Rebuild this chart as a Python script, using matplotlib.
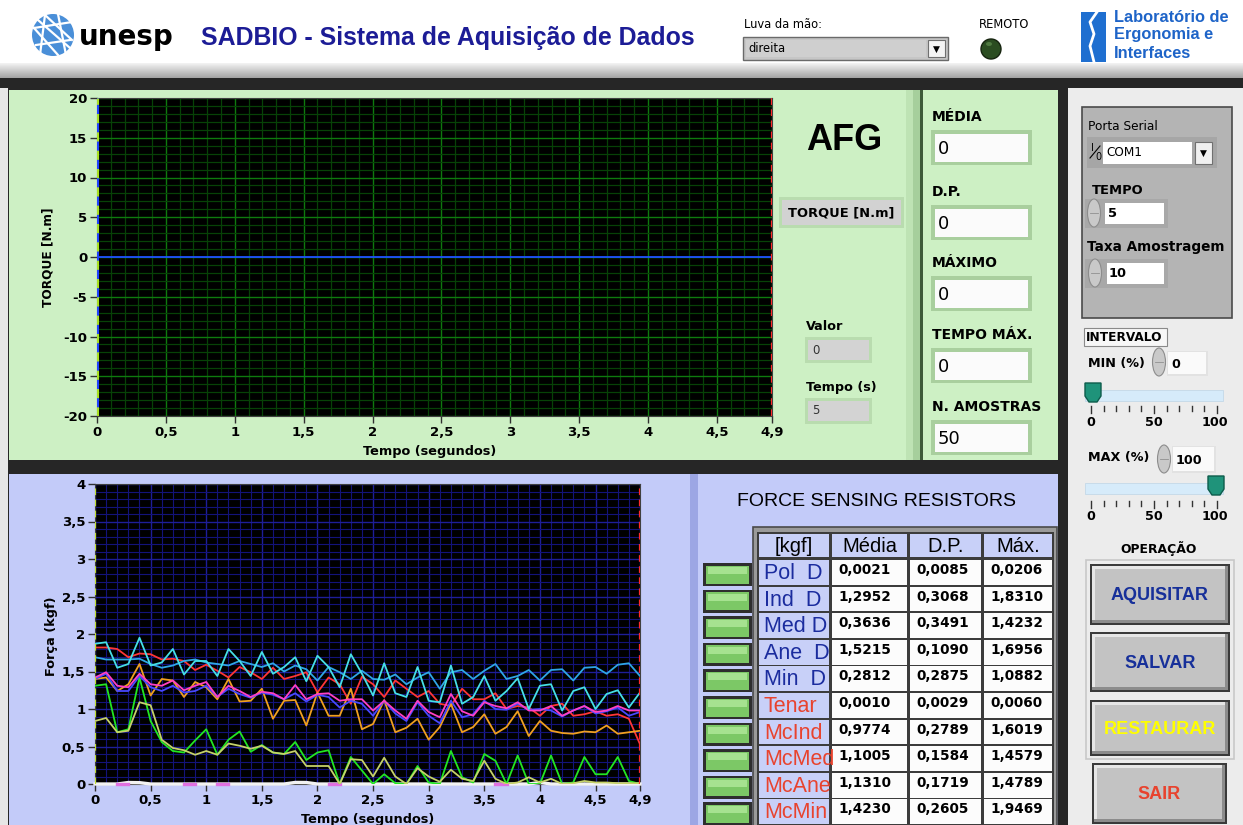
import numpy as np
import matplotlib.pyplot as plt
from matplotlib.patches import Rectangle, Circle, Ellipse, Polygon

W, H = 1243, 825

TAXA = 10          # Taxa Amostragem
N_AMOSTRAS = 50
tempo = np.arange(N_AMOSTRAS) / TAXA
torque = [0.0] * N_AMOSTRAS

fsr_nomes = ["Pol  D", "Ind  D", "Med D", "Ane  D", "Min  D",
             "Tenar", "McInd", "McMed", "McAne", "McMin"]
fsr_media = ["0,0021", "1,2952", "0,3636", "1,5215", "0,2812",
             "0,0010", "0,9774", "1,1005", "1,1310", "1,4230"]
fsr_dp = ["0,0085", "0,3068", "0,3491", "0,1090", "0,2875",
          "0,0029", "0,2789", "0,1584", "0,1719", "0,2605"]
fsr_max = ["0,0206", "1,8310", "1,4232", "1,6956", "1,0882",
           "0,0060", "1,6019", "1,4579", "1,4789", "1,9469"]

pol_d = [0, 0, 0, 0.02, 0.018, 0, 0, 0, 0, 0,
         0, 0, 0, 0, 0, 0, 0, 0, 0.021, 0.02,
         0, 0, 0, 0, 0, 0, 0, 0, 0, 0,
         0, 0, 0, 0, 0, 0, 0, 0, 0, 0,
         0.021, 0, 0, 0, 0, 0, 0, 0, 0, 0]
ind_d = [1.82, 1.82, 1.80, 1.69, 1.74, 1.73, 1.66, 1.67, 1.64, 1.52,
         1.59, 1.51, 1.42, 1.56, 1.49, 1.40, 1.55, 1.40, 1.44, 1.49,
         1.22, 1.42, 1.33, 1.07, 1.43, 1.33, 1.16, 1.38, 1.27, 1.16,
         1.24, 1.07, 1.04, 1.27, 1.13, 1.13, 1.21, 1.00, 1.04, 1.02,
         0.91, 1.04, 1.07, 0.91, 0.93, 0.97, 0.91, 0.93, 0.87, 0.53]
med_d = [1.31, 1.33, 0.69, 0.73, 1.42, 0.84, 0.56, 0.44, 0.42, 0.58,
         0.73, 0.39, 0.59, 0.70, 0.43, 0.52, 0.42, 0.40, 0.56, 0.32,
         0.42, 0.45, 0.00, 0.36, 0.18, 0.00, 0.13, 0.01, 0.00, 0.24,
         0.02, 0.00, 0.44, 0.09, 0.02, 0.40, 0.31, 0.00, 0.38, 0.00,
         0.00, 0.38, 0.00, 0.02, 0.36, 0.13, 0.13, 0.36, 0.04, 0.00]
ane_d = [1.69, 1.66, 1.66, 1.66, 1.67, 1.60, 1.55, 1.58, 1.64, 1.66,
         1.62, 1.60, 1.58, 1.64, 1.60, 1.56, 1.61, 1.50, 1.58, 1.53,
         1.38, 1.56, 1.49, 1.40, 1.51, 1.40, 1.39, 1.46, 1.33, 1.42,
         1.49, 1.27, 1.49, 1.52, 1.40, 1.51, 1.60, 1.40, 1.44, 1.52,
         1.38, 1.52, 1.53, 1.38, 1.55, 1.56, 1.47, 1.59, 1.61, 1.44]
min_d = [0.84, 0.88, 0.69, 0.71, 1.09, 1.05, 0.59, 0.48, 0.45, 0.39,
         0.44, 0.39, 0.54, 0.51, 0.47, 0.51, 0.42, 0.40, 0.44, 0.24,
         0.24, 0.24, 0.00, 0.33, 0.32, 0.10, 0.35, 0.10, 0.00, 0.21,
         0.10, 0.03, 0.19, 0.07, 0.04, 0.31, 0.07, 0.00, 0.02, 0.09,
         0.02, 0.07, 0.00, 0.01, 0.04, 0.02, 0.02, 0.01, 0.01, 0.01]
tenar = [0, 0, 0.005, 0.005, 0, 0, 0, 0, 0.005, 0.005,
         0, 0.005, 0.005, 0, 0, 0, 0, 0, 0, 0,
         0, 0.005, 0.005, 0, 0, 0, 0, 0, 0, 0,
         0, 0, 0, 0, 0, 0, 0.005, 0.005, 0, 0,
         0, 0, 0, 0, 0, 0, 0, 0, 0, 0]
mc_ind = [1.40, 1.42, 1.24, 1.33, 1.60, 1.18, 1.40, 1.38, 1.16, 1.36,
          1.29, 1.13, 1.40, 1.10, 1.11, 1.27, 0.87, 1.11, 1.12, 0.78,
          1.22, 0.91, 0.91, 1.27, 0.73, 0.80, 1.12, 0.69, 0.75, 0.87,
          0.59, 0.76, 1.07, 0.69, 0.76, 0.93, 0.67, 0.76, 0.97, 0.64,
          0.84, 0.71, 0.68, 0.67, 0.70, 0.69, 0.78, 0.67, 0.69, 0.71]
mc_med = [1.40, 1.47, 1.24, 1.24, 1.44, 1.29, 1.24, 1.31, 1.22, 1.24,
          1.31, 1.16, 1.27, 1.20, 1.15, 1.22, 1.19, 1.13, 1.21, 1.10,
          1.19, 1.16, 1.02, 1.11, 1.07, 0.91, 1.11, 0.94, 0.84, 1.09,
          0.91, 0.81, 1.11, 0.89, 0.93, 1.11, 1.00, 0.99, 1.07, 0.99,
          1.00, 0.98, 0.90, 0.98, 1.04, 0.94, 0.97, 1.02, 0.91, 0.96]
mc_ane = [1.42, 1.49, 1.31, 1.29, 1.47, 1.33, 1.31, 1.38, 1.25, 1.31,
          1.36, 1.16, 1.31, 1.24, 1.16, 1.23, 1.21, 1.13, 1.32, 1.13,
          1.20, 1.21, 1.11, 1.13, 1.13, 0.98, 1.11, 0.98, 0.87, 1.11,
          0.96, 0.89, 1.20, 0.97, 0.91, 1.09, 1.04, 1.01, 1.09, 0.98,
          0.98, 1.04, 0.91, 0.98, 1.04, 0.96, 0.98, 1.04, 0.98, 0.98]
mc_min = [1.87, 1.89, 1.55, 1.60, 1.95, 1.58, 1.62, 1.80, 1.46, 1.64,
          1.64, 1.44, 1.80, 1.64, 1.44, 1.76, 1.47, 1.56, 1.69, 1.37,
          1.71, 1.56, 1.29, 1.73, 1.47, 1.18, 1.61, 1.21, 1.16, 1.56,
          1.11, 1.09, 1.58, 1.07, 1.16, 1.44, 1.11, 1.24, 1.41, 1.00,
          1.31, 1.33, 0.98, 1.24, 1.29, 1.00, 1.20, 1.25, 1.02, 1.22]

series = [pol_d, ind_d, med_d, ane_d, min_d, tenar, mc_ind, mc_med, mc_ane, mc_min]
cores = ['#f2f2f2', '#ff3636', '#22e622', '#2fa6e6', '#c6d26a',
         '#e070e0', '#f0a020', '#4848ff', '#ff40c4', '#46dfe6']

fig = plt.figure(figsize=(W / 100, H / 100), dpi=100)
bg = fig.add_axes([0, 0, 1, 1])
bg.set_xlim(0, W)
bg.set_ylim(H, 0)
bg.axis('off')


def caixa(x0, y0, x1, y1, fc, ec='none', lw=0, z=1):
    r = Rectangle((x0, y0), x1 - x0, y1 - y0, facecolor=fc, edgecolor=ec, linewidth=lw, zorder=z)
    bg.add_patch(r)
    return r


def texto(x, y, s, size=10, cor='black', peso='normal', ha='left', va='center', fam='DejaVu Sans', z=6, **kw):
    return bg.text(x, y, s, fontsize=size, color=cor, fontweight=peso, ha=ha, va=va, family=fam, zorder=z, **kw)


def px_axes(x0, y0, x1, y1):
    return fig.add_axes([x0 / W, 1 - y1 / H, (x1 - x0) / W, (y1 - y0) / H])


def virgula(v):
    return f"{v:g}".replace('.', ',')


# ---- cabecalho ----
caixa(0, 0, W, 64, 'white')
bg.imshow(np.linspace(0.95, 0.62, 30).reshape(-1, 1), cmap='gray', vmin=0, vmax=1,
          extent=[0, W, 79, 63], aspect='auto', zorder=1)
caixa(0, 78, W, H, '#262626')
bg.set_xlim(0, W)
bg.set_ylim(H, 0)

# logo unesp
bg.add_patch(Circle((53, 35), 21, facecolor='#4a8fd8', edgecolor='none', zorder=3))
for (xa, ya, xb, yb) in [(34, 28, 72, 22), (36, 45, 70, 40), (45, 15, 40, 55), (58, 14, 66, 55),
                         (34, 28, 58, 55), (45, 15, 72, 40), (38, 20, 70, 48)]:
    bg.plot([xa, xb], [ya, yb], color='white', lw=1.6, zorder=4)
texto(79, 37, 'unesp', 20, peso='bold')
texto(201, 38, 'SADBIO - Sistema de Aquisição de Dados', 17.9, '#1c1c96', 'bold', fam='Liberation Sans')

texto(744, 24, 'Luva da mão:', 8.3)
caixa(743, 37, 948, 60, '#c6c6c6', '#6a6a6a', 1, z=2)
caixa(746, 40, 926, 57, '#cfcfcf', z=3)
texto(748, 48.5, 'direita', 8.3)
caixa(928, 40, 945, 57, '#f4f4f4', '#707070', 0.8, z=3)
texto(936.5, 49, '▼', 6.5, ha='center')

texto(979, 24, 'REMOTO', 8.3)
bg.add_patch(Circle((991, 49), 10, facecolor='#2b4d21', edgecolor='#16240f', lw=1, zorder=3))
bg.add_patch(Ellipse((989, 44), 6, 4, facecolor='#4f7a40', edgecolor='none', zorder=4))

caixa(1081, 12, 1106, 62, '#1f6fd0', z=2)
bg.plot([1097, 1090, 1094, 1090, 1094], [12, 22, 34, 46, 62], color='white', lw=2, zorder=3)
texto(1114, 17, 'Laboratório de', 11.8, '#1e64c8', 'bold', fam='Liberation Sans')
texto(1114, 35, 'Ergonomia e', 11.8, '#1e64c8', 'bold', fam='Liberation Sans')
texto(1114, 53, 'Interfaces', 11.8, '#1e64c8', 'bold', fam='Liberation Sans')

# ---- paineis ----
caixa(0, 88, 8, H, '#e6e6e6')
caixa(9, 90, 1058, 460, '#cdf0c4')
caixa(906, 90, 921, 460, '#bee3b4', z=1.2)
caixa(913, 90, 921, 460, '#a6cf9c', z=1.3)
caixa(920, 90, 923, 460, '#3d5a39', z=1.4)
caixa(9, 474, 690, H, '#c3cbf9')
caixa(690, 474, 698, H, '#9ca6e4')
caixa(698, 474, 1058, H, '#c3cbf9')
caixa(1068, 88, W, H, '#ececec')

# ---- grafico de torque ----
ax1 = px_axes(97, 98, 772, 416)
ax1.set_facecolor('black')
ax1.plot(tempo, torque, color='#1e50ff', lw=1.3, zorder=3)
ax1.set_xlim(0, 4.9)
ax1.set_ylim(-20, 20)
xt = [0, 0.5, 1, 1.5, 2, 2.5, 3, 3.5, 4, 4.5, 4.9]
ax1.set_xticks(xt)
ax1.set_xticklabels([virgula(v) for v in xt], fontweight='bold')
ax1.set_xticks(np.arange(0, 4.9, 0.1), minor=True)
yt = [-20, -15, -10, -5, 0, 5, 10, 15, 20]
ax1.set_yticks(yt)
ax1.set_yticklabels([str(v) for v in yt], fontweight='bold')
ax1.set_yticks(np.arange(-20, 20, 1), minor=True)
ax1.grid(which='major', color='#0e7a0e', lw=1.0)
ax1.grid(which='minor', color='#074207', lw=0.9)
ax1.axvline(0, color='#2040ff', lw=2.2, zorder=4)
ax1.axvline(0, color='#a8e020', lw=2.2, ls=(0, (3, 3)), zorder=5)
ax1.axvline(4.9, color='#ff2a2a', lw=1.6, ls=(0, (3, 2)), zorder=5)

# ---- grafico de forca ----
ax2 = px_axes(95, 484, 640, 784)
ax2.set_facecolor('black')
ax2.plot(tempo, pol_d, color=cores[0], lw=2.4, zorder=3, clip_on=False)
ten = np.array(tenar, dtype=float)
ax2.plot(tempo, np.where(ten > 0, ten, np.nan), color=cores[5], lw=2.4, zorder=3.1, clip_on=False)
for s, c in zip(series[1:5] + series[6:], cores[1:5] + cores[6:]):
    ax2.plot(tempo, s, color=c, lw=1.3, zorder=4)
ax2.set_xlim(0, 4.9)
ax2.set_ylim(0, 4)
ax2.set_xticks(xt)
ax2.set_xticklabels([virgula(v) for v in xt], fontweight='bold')
ax2.set_xticks(np.arange(0, 4.9, 0.1), minor=True)
yt2 = [0, 0.5, 1, 1.5, 2, 2.5, 3, 3.5, 4]
ax2.set_yticks(yt2)
ax2.set_yticklabels([virgula(v) for v in yt2], fontweight='bold')
ax2.set_yticks(np.arange(0, 4, 0.1), minor=True)
ax2.grid(which='major', color='#1e1e98', lw=1.0)
ax2.grid(which='minor', color='#13137a', lw=0.8)
ax2.axvline(0, color='#c0e030', lw=1.6, ls=(0, (3, 2)), zorder=5)
ax2.axvline(4.9, color='#ff2a2a', lw=1.6, ls=(0, (3, 2)), zorder=5)

for ax in (ax1, ax2):
    ax.set_axisbelow(True)
    ax.tick_params(which='major', direction='out', length=5, width=1, color='#303030',
                   labelsize=9.5, pad=2)
    ax.tick_params(which='minor', length=0)
    for sp in ax.spines.values():
        sp.set_color('#404040')
        sp.set_linewidth(0.8)

texto(48, 257, 'TORQUE [N.m]', 8.7, peso='bold', ha='center', rotation=90)
texto(430, 452, 'Tempo (segundos)', 9.3, peso='bold', ha='center')
texto(52, 636, 'Força (kgf)', 9.3, peso='bold', ha='center', rotation=90)
texto(368, 819, 'Tempo (segundos)', 9.3, peso='bold', ha='center')

# ---- indicadores AFG ----
texto(844, 141, 'AFG', 26, peso='bold', ha='center', fam='Liberation Sans')
caixa(779, 197, 904, 228, '#b9dcaf', z=2)
caixa(782, 200, 901, 225, '#d2d2d2', z=3)
texto(841.5, 212.5, 'TORQUE [N.m]', 9.4, peso='bold', ha='center')
for lab, val, y in [('Valor', '0', 326), ('Tempo (s)', '5', 387)]:
    texto(806, y, lab, 9.2, peso='bold')
    caixa(805, y + 11, 872, y + 37, '#b9dcaf', z=2)
    caixa(808, y + 14, 869, y + 34, '#d3d3d3', z=3)
    texto(812, y + 24, val, 8.5, '#333333')

for lab, val, y in [('MÉDIA', '0', 117), ('D.P.', '0', 192), ('MÁXIMO', '0', 263),
                    ('TEMPO MÁX.', '0', 335), ('N. AMOSTRAS', '50', 407)]:
    texto(932, y, lab, 10, peso='bold')
    caixa(931, y + 13, 1032, y + 48, '#a9cf9e', z=2)
    caixa(935, y + 17, 1028, y + 45, '#fbfbfb', z=3)
    texto(938, y + 32, val, 13)

# ---- painel de configuracao ----
caixa(1082, 107, 1232, 318, '#b4b4b4', '#4a4a4a', 1.2, z=2)
texto(1088, 127, 'Porta Serial', 8.7)
caixa(1087, 137, 1217, 168, '#a6a6a6', z=3)
caixa(1103, 142, 1192, 164, 'white', z=4)
caixa(1195, 142, 1212, 164, '#f0f0f0', '#707070', 0.8, z=4)
texto(1203.5, 153.5, '▼', 6.5, ha='center')
texto(1091, 148, 'I', 7, z=7)
texto(1095, 157, '0', 7, z=7)
bg.plot([1090, 1100], [158, 146], color='black', lw=0.8, zorder=7)
texto(1106, 153, 'COM1', 8.7, z=7)


def spinner(cx, cy, h):
    bg.add_patch(Ellipse((cx, cy), 13, h, facecolor='#c9c9c9', edgecolor='#8c8c8c', lw=0.8, zorder=4))
    bg.plot([cx - 4, cx + 4], [cy, cy], color='#909090', lw=0.6, zorder=5)


texto(1092, 190, 'TEMPO', 9.4, peso='bold')
caixa(1085, 199, 1168, 228, '#a8a8a8', z=3)
spinner(1094, 213, 28)
caixa(1105, 203, 1164, 224, 'white', z=4)
texto(1108, 213.5, '5', 9.4, peso='bold')

texto(1087, 247, 'Taxa Amostragem', 9.8, peso='bold')
caixa(1085, 259, 1168, 288, '#a8a8a8', z=3)
spinner(1095, 273, 28)
caixa(1107, 263, 1164, 284, 'white', z=4)
texto(1109, 273.5, '10', 9.4, peso='bold')

caixa(1084, 328, 1167, 346, '#f7f7f7', '#8a8a8a', 0.8, z=2)
texto(1086, 337.5, 'INTERVALO', 8.7, peso='bold')

texto(1088, 363, 'MIN (%)', 9.2, peso='bold')
spinner(1159, 362, 28)
caixa(1167, 351, 1208, 376, '#e2e2e2', z=3)
caixa(1168, 352, 1206, 374, '#fafafa', z=4)
texto(1171, 364, '0', 9.2, peso='bold')

texto(1088, 457, 'MAX (%)', 9.2, peso='bold')
spinner(1164, 459, 28)
caixa(1172, 446, 1216, 473, '#e2e2e2', z=3)
caixa(1173, 447, 1214, 471, '#fafafa', z=4)
texto(1176, 460, '100', 9.2, peso='bold')


def slider(ytrack, xthumb, yt0, yl):
    caixa(1085, ytrack, 1223, ytrack + 11, '#d6ebfa', '#c4d8e8', 0.6, z=3)
    pts = [(xthumb, yt0), (xthumb + 16, yt0), (xthumb + 16, yt0 + 13),
           (xthumb + 12, yt0 + 19), (xthumb + 4, yt0 + 19), (xthumb, yt0 + 13)]
    bg.add_patch(Polygon(pts, closed=True, facecolor='#1f937a', edgecolor='#0d5c4b', lw=1, zorder=5))
    for k in range(11):
        x = 1091 + k * 12.6
        grande = k in (0, 5, 10)
        bg.plot([x, x], [yl - 16, yl - 9 if grande else yl - 11], color='#333333', lw=1, zorder=4)
    texto(1091, yl, '0', 9.2, peso='bold', ha='center')
    texto(1154, yl, '50', 9.2, peso='bold', ha='center')
    texto(1215, yl, '100', 9.2, peso='bold', ha='center')


slider(390, 1085, 383, 422)
slider(483, 1208, 476, 517)

texto(1159, 549, 'OPERAÇÃO', 8.9, peso='bold', ha='center')
bg.add_patch(Rectangle((1086, 560), 148, 199, facecolor='none', edgecolor='#c8c8c8', lw=1.2, zorder=2))


def botao(x0, y0, x1, y1, rot, cor):
    caixa(x0, y0, x1, y1, '#3a3a3a', z=3)
    caixa(x0 + 2, y0 + 2, x1 - 2, y1 - 2, '#8c8c8c', z=3.1)
    caixa(x0 + 2, y0 + 2, x1 - 5, y1 - 5, '#e6e6e6', z=3.2)
    caixa(x0 + 5, y0 + 5, x1 - 5, y1 - 5, '#c3c3c3', z=3.3)
    texto((x0 + x1) / 2, (y0 + y1) / 2 + 1, rot, 13, cor, 'bold', ha='center', fam='Liberation Sans')


botao(1090, 564, 1230, 625, 'AQUISITAR', '#17309a')
botao(1090, 632, 1230, 692, 'SALVAR', '#17309a')
botao(1090, 700, 1230, 756, 'RESTAURAR', '#ffff00')
botao(1092, 763, 1227, 824, 'SAIR', '#e8432e')

# ---- tabela FSR ----
texto(877, 502, 'FORCE SENSING RESISTORS', 14, ha='center', fam='Liberation Sans')
caixa(753, 527, 1057, H + 5, '#9a9a9a', '#4a4a4a', 1.2, z=2)
caixa(757, 532, 1054, H + 5, '#3c3c3c', z=2.1)
colunas = [(759, 829), (832, 907), (910, 981), (984, 1052)]
cabec = ['[kgf]', 'Média', 'D.P.', 'Máx.']
for (xa, xb), rot in zip(colunas, cabec):
    caixa(xa, 534, xb, 557, '#c8d0f8', z=3)
    texto((xa + xb) / 2, 546, rot, 14.5, ha='center', fam='Liberation Sans')

for i, nome in enumerate(fsr_nomes):
    y0 = 560 + i * 26.6
    y1 = y0 + 24.8
    cel = caixa(colunas[0][0], y0, colunas[0][1], y1, '#c8d0f8', z=3)
    cor = '#1b2c9e' if i < 5 else '#e8432e'
    t = texto(764, y0 + 13.5, nome, 15.5, cor, fam='Liberation Sans')
    t.set_clip_path(cel)
    for (xa, xb), val in zip(colunas[1:], [fsr_media[i], fsr_dp[i], fsr_max[i]]):
        caixa(xa, y0, xb, y1, '#fcfcfc', z=3)
        texto(xa + 6, y0 + 10, val, 9.8, peso='bold')
    # LED verde
    caixa(703, y0 + 3, 752, y0 + 26, '#2e2e2e', z=3)
    caixa(706, y0 + 5.5, 749, y0 + 23.5, '#7cc866', z=3.1)
    caixa(708, y0 + 7, 747, y0 + 14, '#a6e290', z=3.2)

fig.savefig('out.png', dpi=100)
